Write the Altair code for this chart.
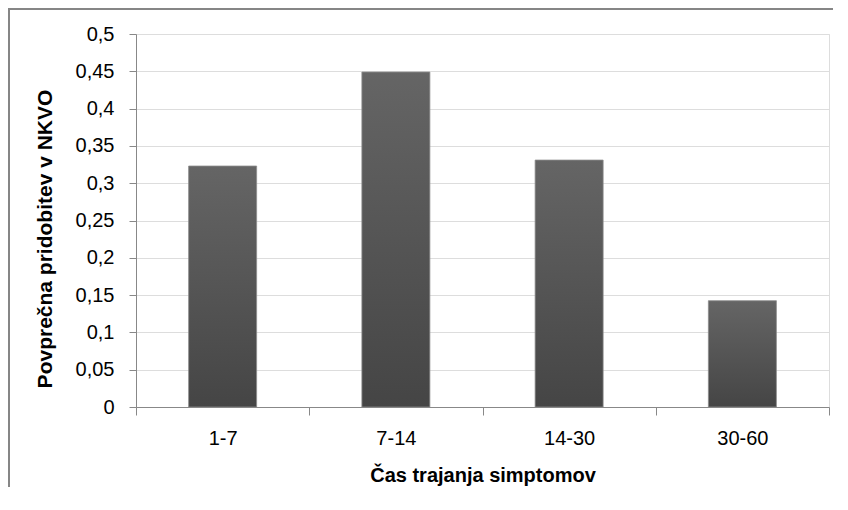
import altair as alt
import pandas as pd

categories = ["1-7", "7-14", "14-30", "30-60"]
values = [0.323, 0.449, 0.331, 0.1425]
y_ticks = [0, 0.05, 0.1, 0.15, 0.2, 0.25, 0.3, 0.35, 0.4, 0.45, 0.5]

df = pd.DataFrame({"cat": categories, "val": values})

W, H = 693, 373
PAD = {"left": 128, "top": 26, "right": 4, "bottom": 80}
FONT = "Lato"

grad = alt.Gradient(
    gradient="linear", x1=0, y1=0, x2=0, y2=1,
    stops=[alt.GradientStop(color="#656565", offset=0),
           alt.GradientStop(color="#454545", offset=1)],
)

bars = alt.Chart(df).mark_bar(size=68, color=grad, stroke="#8c8c8c", strokeWidth=0.8).encode(
    x=alt.X("cat:N", sort=categories,
            scale=alt.Scale(paddingInner=0, paddingOuter=0),
            axis=alt.Axis(title="Čas trajanja  simptomov", labelAngle=0, tickBand="extent",
                          tickSize=8, labelPadding=13, labelFontSize=20,
                          titleFontSize=20, titleFontWeight="bold",
                          titleX=W / 2, titleY=74, titleBaseline="alphabetic",
                          grid=False)),
    y=alt.Y("val:Q", scale=alt.Scale(domain=[0, 0.5], nice=False),
            axis=alt.Axis(title="Povprečna pridobitev v NKVO", values=y_ticks,
                          labelExpr="replace(format(datum.value, '.2~f'), '.', ',')",
                          tickSize=7, labelPadding=15, labelFontSize=20,
                          titleFontSize=21, titleFontWeight="bold",
                          titleX=-91, titleY=H / 2 + 18, titleBaseline="middle",
                          titleAlign="center", titleAngle=270, grid=True)),
)

one = alt.Data(values=[{"a": 1}])
border_left = alt.Chart(one).mark_rule(color="#868686", strokeWidth=2).encode(
    x=alt.value(-127), y=alt.value(-26), y2=alt.value(H + PAD["bottom"]))
border_top = alt.Chart(one).mark_rule(color="#868686", strokeWidth=2).encode(
    y=alt.value(-25), x=alt.value(-128), x2=alt.value(W + PAD["right"]))

chart = alt.layer(bars, border_left, border_top).properties(
    width=W, height=H, padding=PAD, autosize="none",
).configure_view(stroke=None).configure_axis(
    labelFont=FONT, titleFont=FONT, labelColor="#1a1a1a", titleColor="#000000",
    gridColor="#a6a6a6", domainColor="#a6a6a6", tickColor="#a6a6a6",
    gridWidth=1, domainWidth=1, tickWidth=1,
).configure(background="white")

chart.save("out.html", embed_options={"renderer": "svg", "actions": False})
